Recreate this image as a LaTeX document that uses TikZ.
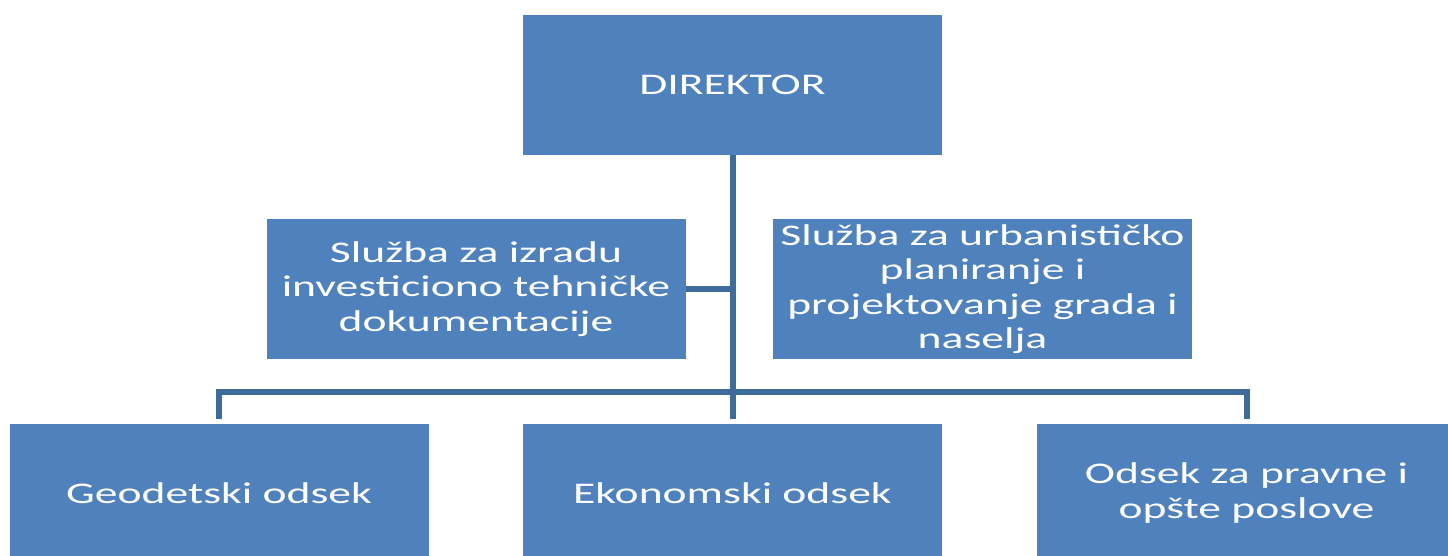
\documentclass[tikz,border=0pt]{standalone}
\usepackage{fontspec}
\newfontfamily\boxfont[FakeStretch=1.52]{Carlito}
\definecolor{boxblue}{HTML}{4F81BD}
\definecolor{lineblue}{HTML}{3F6A9C}
\begin{document}
\begin{tikzpicture}[x=1pt,y=-1pt,
  orgbox/.style={rectangle, fill=boxblue, draw=none, minimum width=419pt, minimum height=139pt,
    text=white, align=center, inner sep=0pt, font=\boxfont\fontsize{30}{34.5}\selectfont},
  link/.style={draw=lineblue, line width=6pt}]
\useasboundingbox (0,0) rectangle (1448,556);
\clip (0,0) rectangle (1448,556);
\node[orgbox, minimum height=140pt] (dir) at (732.5,85) {DIREKTOR};
\node[orgbox] (izr) at (476,289) {Služba za izradu\\investiciono tehničke\\dokumentacije};
\node[orgbox] (urb) at (982.5,289) {Služba za urbanističko\\planiranje i\\projektovanje grada i\\naselja};
\node[orgbox, minimum height=138pt] (geo) at (219,493) {Geodetski odsek};
\node[orgbox, minimum height=138pt] (eko) at (732.5,493) {Ekonomski odsek};
\node[orgbox, minimum height=138pt] (prav) at (1246.5,493) {Odsek za pravne i\\opšte poslove};
\coordinate (bus) at (732.5,392);
\draw[link, shorten >=5pt] (dir.south) -- (eko.north);
\draw[link] (izr.east) -- (izr.east -| dir.south);
\draw[link, shorten <=5pt, shorten >=5pt] (geo.north) -- (geo.north |- bus) -- (prav.north |- bus) -- (prav.north);
\end{tikzpicture}
\end{document}
